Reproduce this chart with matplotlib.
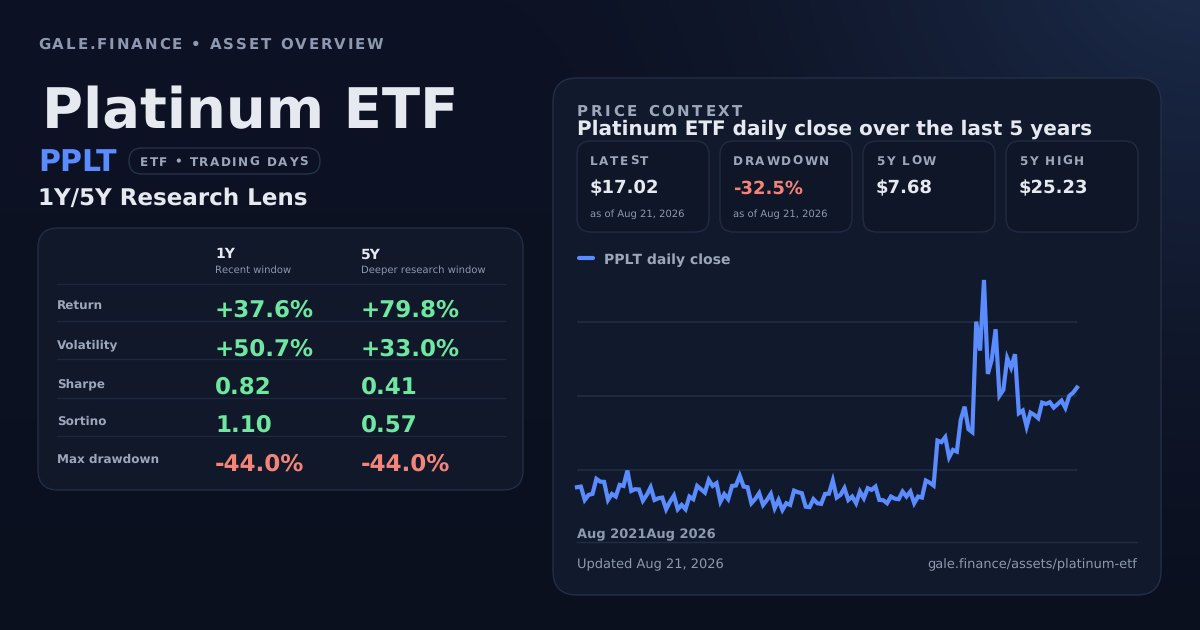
import numpy as np
import matplotlib
matplotlib.use("Agg")
import matplotlib.pyplot as plt
from matplotlib.patches import FancyBboxPatch
from matplotlib.ft2font import FT2Font
from matplotlib.font_manager import findfont, FontProperties

ticker = "PPLT"
asset_name = "Platinum ETF"
metric_names = ["Return", "Volatility", "Sharpe", "Sortino", "Max drawdown"]
metric_kind = ["pct", "pct", "num", "num", "pct"]
metrics_1y = [37.6, 50.7, 0.82, 1.10, -44.0]
metrics_5y = [79.8, 33.0, 0.41, 0.57, -44.0]
stat_labels = ["LATEST", "DRAWDOWN", "5Y LOW", "5Y HIGH"]
stat_values = ["$17.02", "-32.5%", "$7.68", "$25.23"]
stat_notes = ["as of Aug 21, 2026", "as of Aug 21, 2026", "", ""]
x_labels = ["Aug 2021", "Aug 2026"]

# sampled daily closes, Aug 2021 -> Aug 2026
close = [
    9.41, 9.46, 8.44, 8.83, 8.90, 10.05, 9.84, 9.82, 8.44, 8.90,
    8.70, 9.59, 9.51, 10.68, 9.13, 9.26, 9.24, 8.39, 8.83, 9.41,
    8.44, 8.57, 8.62, 7.73, 8.31, 8.77, 7.73, 8.06, 7.73, 8.70,
    8.50, 9.51, 9.26, 9.00, 9.97, 9.51, 9.72, 8.31, 8.88, 8.50,
    9.51, 9.54, 10.28, 9.46, 9.41, 8.19, 8.52, 8.96, 8.06, 8.44,
    8.90, 7.81, 8.44, 7.68, 8.19, 8.06, 9.15, 9.03, 8.96, 7.93,
    7.89, 8.50, 8.19, 8.14, 8.90, 8.92, 9.92, 8.62, 8.83, 9.34,
    8.44, 8.70, 8.19, 9.08, 8.57, 9.34, 9.21, 9.46, 8.44, 8.42,
    8.19, 8.70, 8.54, 8.50, 9.08, 8.70, 9.08, 8.19, 8.70, 8.62,
    9.92, 9.76, 9.54, 12.97, 12.85, 13.23, 11.70, 12.26, 12.13, 14.55,
    15.56, 13.84, 13.61, 22.05, 19.84, 25.23, 18.06, 19.13, 21.47, 16.40,
    16.84, 19.26, 18.54, 19.56, 15.06, 15.26, 14.04, 15.10, 14.93, 14.68,
    15.87, 15.77, 15.90, 15.49, 15.75, 16.02, 15.47, 16.38, 16.63, 17.02,
]
grid_levels = [10.73, 16.40, 22.05]

# ---- colours ----
CARD = "#111a2d"
CARD_EDGE = "#222d45"
SUBCARD = "#0f1628"
TEXT = "#e6e9ef"
MUTED = "#8d99b0"
LABEL = "#9ca7bc"
BLUE = "#5b8cff"
GREEN = "#6ee7a0"
RED = "#f4847a"
GRID = "#212b40"

plt.rcParams["font.family"] = ["DejaVu Sans"]
# unhinted glyphs so the hand-spaced labels land where they are measured
plt.rcParams["text.hinting"] = "no_hinting"
plt.rcParams["text.hinting_factor"] = 1


def spaced_text(ax, x, y, s, size, spacing, color, weight="bold"):
    # matplotlib has no letter-spacing, so lay the glyphs out one by one
    prop = FontProperties(family="DejaVu Sans", weight=weight, size=size)
    font = FT2Font(findfont(prop), 1)
    font.set_size(size, 100)
    pen = 0.0
    for ch in s:
        if not ch.isspace():
            ax.text(x + pen, y, ch, fontproperties=prop, color=color,
                    va="baseline", ha="left")
        pen += font.load_char(ord(ch)).linearHoriAdvance / 65536 + spacing


def card(ax, x, y, w, h, r, fc, ec, lw=1.0):
    ax.add_patch(FancyBboxPatch((x, y), w, h,
                                boxstyle=f"round,pad=0,rounding_size={r}",
                                fc=fc, ec=ec, lw=lw, zorder=1))


fig = plt.figure(figsize=(12, 6.3), dpi=100)
bg = fig.add_axes([0, 0, 1, 1])
bg.axis("off")

# background: dark navy with a soft glow in the top right
yy, xx = np.mgrid[0:630, 0:1200]
base = np.array([13, 19, 37]) / 255
low = np.array([11, 16, 31]) / 255
glow = np.array([30, 46, 78]) / 255
t = (yy / 630.0)[..., None]
img = base * (1 - t) + low * t
d = np.sqrt((xx - 1200) ** 2 + (yy + 60) ** 2)
wgt = (np.clip(1 - d / 700, 0, 1) ** 1.8)[..., None]
img = img * (1 - wgt) + glow * wgt
bg.imshow(img, extent=(0, 1200, 630, 0), aspect="auto", zorder=0,
          interpolation="bilinear")
bg.set_xlim(0, 1200)
bg.set_ylim(630, 0)

# ---- left column ----
spaced_text(bg, 38, 49, "GALE.FINANCE • ASSET OVERVIEW", 11.0, 1.9, MUTED)
bg.text(42, 128.5, asset_name, fontsize=40.2, fontweight="bold", color=TEXT,
        va="baseline")
bg.text(38, 171, ticker, fontsize=21.8, fontweight="bold", color=BLUE, va="baseline")
card(bg, 129, 148, 191, 26, 13, "none", "#26314a")
spaced_text(bg, 140, 165.5, "ETF • TRADING DAYS", 8.6, 1.5, LABEL)
bg.text(38, 205, "1Y/5Y Research Lens", fontsize=16.4, fontweight="bold",
        color=TEXT, va="baseline")

card(bg, 38, 228, 485, 262, 20, "#10182a", CARD_EDGE)
col_x = [215, 361]
col_head = ["1Y", "5Y"]
col_sub = ["Recent window", "Deeper research window"]
for cx, hd, sb in zip(col_x, col_head, col_sub):
    bg.text(cx, 258.3, hd, fontsize=10.3, fontweight="bold", color=TEXT, va="baseline")
    bg.text(cx, 272.5, sb, fontsize=7.3, color=MUTED, va="baseline")

row_lines = [283.5, 320.5, 359, 397.5, 435.5]
for ly in row_lines:
    bg.plot([57, 505], [ly, ly], color="#1e2940", lw=1, zorder=2)

label_base = [309.3, 348.3, 387.0, 425.0, 463.3]
value_base = [316.7, 355.7, 393.3, 431.3, 470.7]


def fmt(v, kind):
    return f"{v:+.1f}%" if kind == "pct" else f"{v:.2f}"


for i, name in enumerate(metric_names):
    bg.text(57, label_base[i], name, fontsize=8.7, fontweight="bold",
            color=LABEL, va="baseline")
    for cx, vals in zip(col_x, [metrics_1y, metrics_5y]):
        v = vals[i]
        bg.text(cx, value_base[i], fmt(v, metric_kind[i]), fontsize=16.6,
                fontweight="bold", color=RED if v < 0 else GREEN, va="baseline")

# ---- right panel ----
card(bg, 553, 78, 608, 517, 24, CARD, "#232e47")
spaced_text(bg, 577, 116, "PRICE CONTEXT", 10.5, 2.7, LABEL)
bg.text(577, 135, f"{asset_name} daily close over the last 5 years", fontsize=14.4,
        fontweight="bold", color=TEXT, va="baseline")

for i, (lab, val, note) in enumerate(zip(stat_labels, stat_values, stat_notes)):
    x0 = 577 + i * 143
    card(bg, x0, 141, 132, 91, 14, SUBCARD, "#212b43")
    spaced_text(bg, x0 + 13, 165, lab, 8.4, 1.6, LABEL)
    bg.text(x0 + 13, 193.5, val, fontsize=12.9, fontweight="bold",
            color=RED if val.startswith("-") else TEXT, va="baseline")
    if note:
        bg.text(x0 + 13, 216.5, note, fontsize=7.2, color=MUTED, va="baseline")

# legend
bg.plot([579, 593], [258, 258], color=BLUE, lw=3, solid_capstyle="round", zorder=3)
bg.text(604, 264, f"{ticker} daily close", fontsize=10.4, fontweight="bold",
        color=LABEL, va="baseline")

# x labels (rendered back to back, as on the card)
bg.text(577, 538, "".join(x_labels), fontsize=9.2, fontweight="bold",
        color=MUTED, va="baseline")
bg.plot([577, 1137], [541.5, 541.5], color="#212b42", lw=1, zorder=2)

bg.text(577, 568.5, "Updated Aug 21, 2026", fontsize=9.3, color=MUTED, va="baseline")
bg.text(1137, 568.5, "gale.finance/assets/platinum-etf", fontsize=9.3, color=MUTED,
        va="baseline", ha="right")

# ---- price chart ----
ax = fig.add_axes([577 / 1200, 1 - 520 / 630, 500 / 1200, 250 / 630])
ax.patch.set_alpha(0)
x = np.arange(len(close))
ax.plot(x, close, color=BLUE, lw=3.0, solid_joinstyle="miter", clip_on=False, zorder=3)
ax.set_xlim(0, len(close) - 1)
ax.set_ylim(6.91, 25.99)
ax.set_yticks(grid_levels)
ax.set_xticks([])
ax.grid(axis="y", color=GRID, lw=1.3)
ax.tick_params(length=0, labelleft=False, labelbottom=False)
for s in ax.spines.values():
    s.set_visible(False)

fig.savefig("out.png", dpi=100, facecolor="#0c1222")
